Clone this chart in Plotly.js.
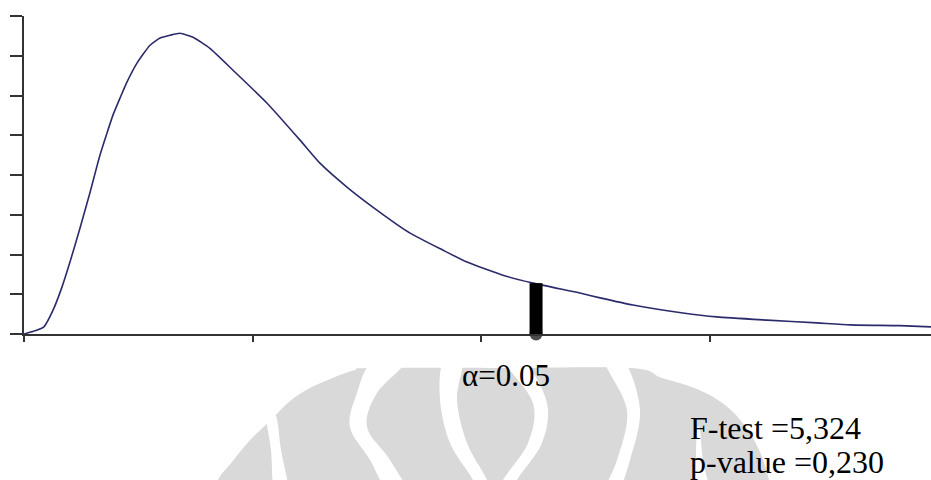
<!DOCTYPE html>
<html>
<head>
<meta charset="utf-8">
<script src="https://cdn.plot.ly/plotly-3.0.1.min.js"></script>
<style>html,body{margin:0;padding:0;background:#fff;}#chart{width:931px;height:480px;}</style>
</head>
<body>
<div id="chart"></div>
<script>
// F-distribution density curve
const curveX = [0, 0.048, 0.087, 0.127, 0.166, 0.201, 0.245, 0.289, 0.332, 0.363, 0.389, 0.420, 0.450, 0.494, 0.551, 0.595, 0.638, 0.682, 0.739, 0.813, 0.914, 1.063, 1.207, 1.294, 1.412, 1.543, 1.688, 1.832, 1.937, 2.094, 2.226, 2.431, 2.519, 2.663, 2.881, 3.030, 3.249, 3.467, 3.612, 3.830, 3.966];
const curveY = [0, 0.008, 0.018, 0.060, 0.118, 0.181, 0.267, 0.357, 0.450, 0.506, 0.551, 0.594, 0.634, 0.682, 0.727, 0.745, 0.752, 0.757, 0.747, 0.719, 0.664, 0.581, 0.488, 0.430, 0.370, 0.312, 0.254, 0.211, 0.181, 0.148, 0.128, 0.103, 0.091, 0.073, 0.053, 0.043, 0.035, 0.028, 0.023, 0.021, 0.018];
// critical value marker
const critX = [2.239, 2.239];
const critY = [0, 0.128];
// axis ticks (no labels)
const xTicks = [0, 1, 2, 3];
const yTicks = [0, 0.1, 0.2, 0.3, 0.4, 0.5, 0.6, 0.7, 0.8];
// texts
const alphaLabel = 'α=0.05';
const statLabels = ['F-test =5,324', 'p-value =0,230'];

// ---- decoration: faint watermark logo (pixel outline, smoothed) ----
const L = 24, W = 907, B = 334, H = 318;
function px(p) { return ((p[0] - L) / W).toFixed(4) + ',' + ((B - p[1]) / H).toFixed(4); }
function smoothPath(pts) {
  const n = pts.length;
  let d = 'M' + px(pts[0]);
  for (let i = 0; i < n; i++) {
    const p0 = pts[(i - 1 + n) % n], p1 = pts[i], p2 = pts[(i + 1) % n], p3 = pts[(i + 2) % n];
    const c1 = [p1[0] + (p2[0] - p0[0]) / 6, p1[1] + (p2[1] - p0[1]) / 6];
    const c2 = [p2[0] - (p3[0] - p1[0]) / 6, p2[1] - (p3[1] - p1[1]) / 6];
    d += ' C' + px(c1) + ' ' + px(c2) + ' ' + px(p2);
  }
  return d + ' Z';
}
const wmGrey = [[216,500],[218,480],[232,462],[250,440],[270,421],[290,401],[310,388],[335,377],[355,370],[370,368],[500,368],[630,368],[662,378],[697,389],[725,405],[745,426],[760,452],[769,480],[772,500],[500,500]];
const wmWhite = [
  [[267,420],[276,416],[281,450],[290,500],[275,500],[271,450]],
  [[372,362],[357,393],[350,427],[370,460],[392,500],[412,500],[390,460],[367,427],[377,393],[405,362]],
  [[443,362],[440,400],[450,443],[473,480],[480,500],[492,500],[487,480],[467,443],[457,400],[462,362]],
  [[505,362],[533,403],[528,443],[503,480],[497,500],[512,500],[517,480],[542,443],[547,403],[525,362]],
  [[605,362],[627,410],[617,460],[600,500],[615,500],[630,460],[640,410],[625,362]],
  [[697,430],[700,430],[703,460],[711,500],[697,500],[696,460]]
];
const shapes = [{type:'path', xref:'paper', yref:'paper', path:smoothPath(wmGrey), fillcolor:'#d9d9d9', line:{width:0}, layer:'below'}];
wmWhite.forEach(w => shapes.push({type:'path', xref:'paper', yref:'paper', path:smoothPath(w), fillcolor:'#ffffff', line:{width:0}, layer:'below'}));

const traces = [
  {x: curveX, y: curveY, type: 'scatter', mode: 'lines', line: {color: '#2b2b6b', width: 1.6, shape: 'spline', smoothing: 0.5}, hoverinfo: 'skip', cliponaxis: false},
  {x: critX, y: critY, type: 'scatter', mode: 'lines+markers', line: {color: '#000000', width: 13},
   marker: {color: '#000000', size: [13, 0], symbol: 'circle', line: {width: 0}}, hoverinfo: 'skip', cliponaxis: false}
];

const fontAlpha = {family: 'Liberation Serif, Times New Roman, serif', size: 31, color: '#000000'};
const fontStats = {family: 'Liberation Serif, Times New Roman, serif', size: 32, color: '#000000'};
const layout = {
  width: 931, height: 480,
  margin: {l: L, r: 0, t: 16, b: 146, pad: 0},
  paper_bgcolor: '#ffffff', plot_bgcolor: 'rgba(0,0,0,0)',
  showlegend: false,
  xaxis: {range: [0, 907/228.7], tickvals: xTicks, showticklabels: false, ticks: 'outside', ticklen: 6, tickwidth: 2, tickcolor: '#333333',
          showline: true, linecolor: '#333333', linewidth: 2, showgrid: false, zeroline: false, fixedrange: true},
  yaxis: {range: [0, 0.8005], tickvals: yTicks, showticklabels: false, ticks: 'outside', ticklen: 12, tickwidth: 2, tickcolor: '#333333',
          showline: true, linecolor: '#333333', linewidth: 2, showgrid: false, zeroline: false, fixedrange: true},
  shapes: shapes,
  annotations: [
    {text: alphaLabel, xref: 'paper', yref: 'paper', x: (506 - L) / W, y: (B - 375) / H, xanchor: 'center', yanchor: 'middle', showarrow: false, font: fontAlpha},
    {text: statLabels[0], xref: 'paper', yref: 'paper', x: (688 - L) / W, y: (B - 428) / H, xanchor: 'left', yanchor: 'middle', showarrow: false, font: fontStats},
    {text: statLabels[1], xref: 'paper', yref: 'paper', x: (688 - L) / W, y: (B - 462) / H, xanchor: 'left', yanchor: 'middle', showarrow: false, font: fontStats}
  ]
};
Plotly.newPlot('chart', traces, layout, {displayModeBar: false, staticPlot: true});
</script>
</body>
</html>
